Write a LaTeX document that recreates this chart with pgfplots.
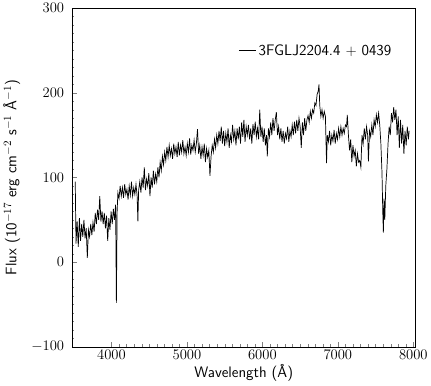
\documentclass[border=0pt]{standalone}
\usepackage{fontspec}
\usepackage{sansmath}
\renewcommand{\familydefault}{\sfdefault}
\usepackage{pgfplots}
\pgfplotsset{compat=1.18}

\pgfplotstableread{
x y
3520 95
3530 22
3545 48
3560 18
3575 52
3590 25
3605 45
3620 30
3635 50
3650 28
3665 40
3680 5
3695 38
3710 30
3725 45
3740 32
3755 47
3770 36
3785 58
3800 45
3815 62
3830 50
3845 78
3860 48
3875 60
3890 45
3905 58
3920 40
3935 55
3950 25
3965 52
3980 38
3995 60
4010 45
4025 63
4040 50
4055 68
4065 -48
4075 60
4085 82
4100 75
4115 90
4130 78
4145 88
4160 76
4175 92
4190 80
4205 86
4220 74
4235 90
4250 79
4265 95
4280 78
4295 88
4310 80
4325 92
4340 78
4350 48
4360 85
4375 95
4390 82
4405 100
4420 88
4435 112
4450 85
4465 98
4480 90
4495 105
4510 78
4525 100
4540 88
4555 108
4570 92
4585 104
4600 95
4615 112
4630 100
4645 118
4660 108
4675 125
4690 115
4705 130
4720 120
4735 136
4750 124
4765 138
4780 126
4795 134
4810 122
4825 140
4840 128
4855 136
4870 124
4885 142
4900 126
4915 138
4930 130
4945 144
4960 128
4975 136
4990 126
5005 140
5020 130
5035 146
5050 127
5065 138
5080 132
5095 144
5110 130
5125 140
5140 157
5155 128
5170 138
5185 122
5200 136
5215 126
5230 140
5245 118
5260 134
5275 124
5290 132
5305 102
5320 125
5335 138
5350 130
5365 145
5380 135
5395 150
5410 140
5425 155
5440 143
5455 160
5470 140
5485 155
5500 137
5515 152
5530 142
5545 158
5560 135
5575 150
5590 142
5605 162
5620 145
5635 155
5650 138
5665 158
5680 145
5695 160
5710 140
5725 165
5740 148
5755 168
5770 142
5785 160
5800 150
5815 162
5830 145
5845 158
5860 140
5875 163
5890 150
5905 166
5920 148
5935 158
5950 145
5965 180
5980 148
5995 160
6010 142
6025 158
6040 138
6055 150
6065 125
6080 158
6095 148
6110 165
6125 150
6140 170
6155 155
6170 168
6185 177
6200 150
6215 160
6230 145
6245 158
6260 142
6275 155
6290 140
6305 152
6320 146
6335 160
6350 142
6365 155
6380 148
6395 162
6410 150
6425 166
6440 152
6455 168
6470 155
6485 170
6500 160
6515 135
6530 165
6545 150
6560 170
6575 155
6590 168
6605 173
6620 165
6635 178
6650 170
6665 180
6680 176
6695 188
6710 185
6725 198
6740 202
6750 210
6760 185
6775 172
6790 180
6805 170
6820 178
6835 172
6850 117
6860 150
6875 142
6890 155
6905 138
6920 150
6935 143
6950 156
6965 140
6980 152
6995 145
7010 158
7025 148
7040 160
7055 150
7070 158
7085 152
7100 162
7115 160
7125 174
7140 150
7155 132
7170 145
7185 118
7200 138
7215 125
7230 132
7245 113
7260 128
7275 118
7290 120
7305 112
7320 150
7335 140
7350 158
7365 145
7380 160
7395 150
7405 119
7420 155
7435 148
7450 162
7465 150
7480 168
7495 160
7510 174
7525 165
7540 176
7555 162
7570 140
7585 105
7595 60
7603 35
7612 75
7622 50
7635 90
7650 110
7665 140
7680 160
7695 150
7710 176
7725 165
7740 183
7755 168
7770 180
7785 150
7800 172
7815 135
7830 168
7845 140
7860 162
7875 128
7890 155
7905 138
7920 160
7935 145
7945 155
}\spec

\begin{document}
\begin{tikzpicture}
\begin{axis}[
  width=339pt, height=334pt,
  scale only axis,
  xmin=3474, xmax=8030,
  ymin=-100, ymax=300,
  xtick={4000,5000,6000,7000,8000},
  ytick={-100,0,100,200,300},
  minor x tick num=9,
  minor y tick num=9,
  tick pos=left,
  tick align=inside,
  major tick length=5pt,
  minor tick length=2.5pt,
  scaled x ticks=false,
  xticklabel style={/pgf/number format/1000 sep={}},
  yticklabel style={xshift=-4pt},
  tick label style={font=\fontsize{15}{17}\selectfont\sansmath},
  label style={font=\fontsize{15}{17}\selectfont\sansmath},
  xlabel={Wavelength (Å)},
  ylabel={Flux (10$^{-17}$ erg cm$^{-2}$ s$^{-1}$ Å$^{-1}$)},
  xlabel style={yshift=2pt},
  ylabel style={yshift=4pt},
  legend style={draw=none, fill=none, at={(0.945,0.905)}, anchor=north east,
    font=\fontsize{15}{17}\selectfont\sansmath},
  legend cell align=left,
]
\addplot[black, line width=0.7pt] table[x=x, y=y] {\spec};
\addlegendentry{3FGLJ2204.4 $+$ 0439}
\end{axis}
\end{tikzpicture}
\end{document}
